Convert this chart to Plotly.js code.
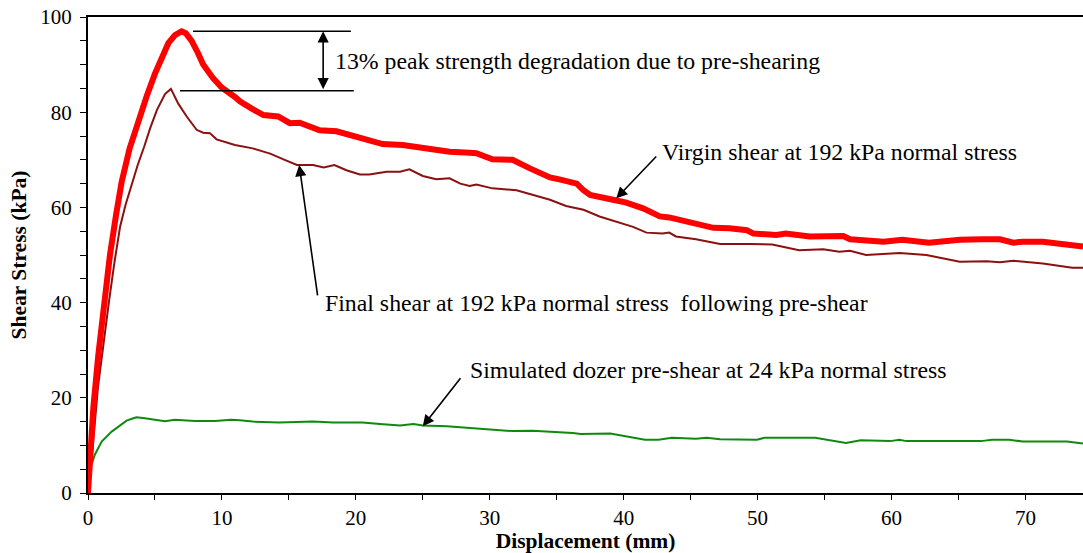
<!DOCTYPE html>
<html>
<head>
<meta charset="utf-8">
<script src="https://cdn.plot.ly/plotly-3.0.1.min.js"></script>
<style>html,body{margin:0;padding:0;background:#fff;}#chart{width:1083px;height:553px;}</style>
</head>
<body>
<div id="chart"></div>
<script>
// Virgin shear at 192 kPa normal stress
const virginX = [0,0.15,0.4,0.77,1.2,1.64,2.1,2.51,3.1,3.76,4.4,5.0,5.5,6.0,6.5,6.99,7.3,7.74,8.2,8.6,9.35,9.98,10.97,11.34,12.2,13.1,14.2,15.07,15.8,16.5,17.3,18.56,19.55,20.5,22.0,23.5,25.3,27.0,28.5,29.0,30.2,31.7,33.0,34.5,35.2,36.5,37.0,37.5,39.2,40.2,41.45,42.7,43.4,44.9,46.7,47.9,49.2,49.7,51.4,52.1,53.1,53.9,56.4,56.9,59.4,60.8,62.8,65.1,66.8,68.1,69.1,69.8,71.3,72.5,74.3];
const virginY = [0,9,18,29,40,50,58.5,65.3,72.3,78.4,83.5,88.1,91.5,94.5,96.2,97.0,96.6,95.0,92.5,90.0,87.1,85.2,83.2,82.3,80.8,79.4,79.1,77.7,77.8,77.2,76.2,76.0,75.3,74.5,73.3,73.1,72.4,71.7,71.5,71.4,70.1,70.0,68.2,66.3,65.9,65.0,63.6,62.6,61.6,61.0,59.8,58.1,57.9,56.8,55.7,55.6,55.2,54.5,54.2,54.5,54.0,53.9,54.0,53.3,52.8,53.2,52.6,53.2,53.3,53.3,52.6,52.8,52.8,52.3,51.8];

// Final shear at 192 kPa following pre-shear
const finalX = [0,0.3,0.75,1.15,1.55,1.95,2.4,2.8,3.2,3.7,4.2,4.65,5.15,5.75,6.19,6.74,7.37,8.11,8.6,9.1,9.6,10.22,10.97,12.3,13.6,14.6,15.6,16.8,17.6,18.4,19.3,20.3,21.0,22.3,23.3,24.0,25.0,26.0,27.0,27.8,28.5,29.0,30.2,32.0,33.7,34.5,35.7,37.0,38.2,39.4,40.7,41.7,42.9,43.4,43.9,45.4,47.2,49.4,51.1,53.1,54.9,56.1,56.9,58.1,60.6,62.6,65.1,67.1,68.1,69.1,71.3,73.5,74.3];
const finalY = [0,8,22.4,31.5,39.9,48,56,60.5,64.4,68.8,72.8,76.7,80.5,83.8,84.9,81.8,79.1,76.3,75.7,75.6,74.3,73.8,73.1,72.4,71.3,70.1,68.9,68.9,68.4,68.9,67.8,66.9,66.9,67.5,67.5,68.0,66.6,65.9,66.1,65.0,64.5,64.8,64.0,63.6,62.3,61.6,60.3,59.5,58.1,57.0,55.9,54.7,54.5,54.7,53.9,53.3,52.3,52.3,52.2,51.0,51.2,50.7,50.9,50.0,50.4,50.0,48.6,48.7,48.5,48.8,48.2,47.3,47.3];

// Simulated dozer pre-shear at 24 kPa normal stress
const dozerX = [0,0.15,0.5,1.02,1.77,2.88,3.38,3.63,4.25,5.75,6.49,7.99,9.48,10.7,11.34,12.3,14.3,16.8,18.3,20.5,21.8,23.3,24.3,25.0,26.8,29.25,31.7,33.2,34.7,36.2,36.8,38.0,39.0,41.6,42.6,43.6,45.4,46.2,47.2,49.96,50.5,52.8,54.3,56.6,57.7,59.9,60.6,61.1,66.7,67.5,68.8,69.8,73.1,74.3];
const dozerY = [0,4.9,8,10.8,12.9,15.2,15.7,15.9,15.7,15.1,15.4,15.1,15.1,15.4,15.3,15.0,14.8,15.0,14.8,14.8,14.5,14.2,14.5,14.2,14.0,13.5,13.0,13.1,12.9,12.6,12.4,12.4,12.5,11.2,11.2,11.6,11.4,11.6,11.3,11.2,11.6,11.6,11.6,10.5,11.1,10.9,11.2,10.9,10.9,11.2,11.2,10.8,10.8,10.4];

// Peak levels and annotation texts
const virginPeak = 97.0;
const finalPeak = 84.5;
const labelTexts = [
  "13% peak strength degradation due to pre-shearing",
  "Virgin shear at 192 kPa normal stress",
  "Final shear at 192 kPa normal stress  following pre-shear",
  "Simulated dozer pre-shear at 24 kPa normal stress"
];

const serif = "'Liberation Serif', 'Times New Roman', serif";

const traces = [
  {x: dozerX, y: dozerY, type: 'scatter', mode: 'lines', line: {color: '#0f8a0f', width: 2}, hoverinfo: 'skip'},
  {x: finalX, y: finalY, type: 'scatter', mode: 'lines', line: {color: '#8b1010', width: 2}, hoverinfo: 'skip'},
  {x: virginX, y: virginY, type: 'scatter', mode: 'lines', line: {color: '#ff0000', width: 6}, hoverinfo: 'skip'}
];

const arrowBase = {showarrow: true, text: '', arrowhead: 2, arrowsize: 1.4, arrowwidth: 1.6, arrowcolor: '#000', axref: 'x', ayref: 'y', xref: 'x', yref: 'y'};
const textBase = {showarrow: false, xref: 'x', yref: 'y', xanchor: 'left', yanchor: 'middle', font: {family: serif, size: 23.8, color: '#000'}};

const layout = {
  width: 1083, height: 553,
  margin: {l: 88, r: 0, t: 17, b: 60},
  paper_bgcolor: '#fff', plot_bgcolor: '#fff',
  showlegend: false,
  xaxis: {
    range: [0, 74.3], dtick: 10, tick0: 0,
    showgrid: false, zeroline: false,
    showline: true, linecolor: '#000', linewidth: 2, mirror: true,
    ticks: 'outside', ticklen: 5, tickwidth: 1, tickcolor: '#000',
    minor: {dtick: 5, ticks: 'outside', ticklen: 5, tickwidth: 1, tickcolor: '#000', showgrid: false},
    tickfont: {family: serif, size: 21, color: '#000'},
    ticklabelstandoff: 0,
    title: {text: 'Displacement (mm)', font: {family: serif, size: 21.5, color: '#000', weight: 'bold'}, standoff: 2}
  },
  yaxis: {
    range: [0, 100], dtick: 20, tick0: 0,
    showgrid: false, zeroline: false,
    showline: true, linecolor: '#000', linewidth: 2,
    ticks: 'outside', ticklen: 6, tickwidth: 1, tickcolor: '#000',
    minor: {dtick: 5, ticks: 'outside', ticklen: 6, tickwidth: 1, tickcolor: '#000', showgrid: false},
    tickfont: {family: serif, size: 21, color: '#000'},
    ticklabelstandoff: 4,
    title: {text: 'Shear Stress (kPa)', font: {family: serif, size: 21.5, color: '#000', weight: 'bold'}, standoff: 8}
  },
  shapes: [
    {type: 'line', xref: 'x', yref: 'y', x0: 7.84, x1: 19.63, y0: virginPeak, y1: virginPeak, line: {color: '#000', width: 1.5}},
    {type: 'line', xref: 'x', yref: 'y', x0: 6.87, x1: 19.85, y0: finalPeak, y1: finalPeak, line: {color: '#000', width: 1.5}}
  ],
  annotations: [
    Object.assign({}, arrowBase, {x: 17.56, y: virginPeak, ax: 17.56, ay: finalPeak, arrowside: 'end+start', startarrowhead: 2, startarrowsize: 1.4}),
    Object.assign({}, arrowBase, {x: 39.45, y: 61.9, ax: 42.54, ay: 71.0}),
    Object.assign({}, arrowBase, {x: 15.77, y: 68.9, ax: 17.16, ay: 41.2}),
    Object.assign({}, arrowBase, {x: 25.0, y: 14.0, ax: 27.9, ay: 24.4}),
    Object.assign({}, textBase, {x: 18.28, y: 90.7, text: labelTexts[0]}),
    Object.assign({}, textBase, {x: 42.7, y: 71.6, text: labelTexts[1]}),
    Object.assign({}, textBase, {x: 17.54, y: 39.95, text: labelTexts[2]}),
    Object.assign({}, textBase, {x: 28.36, y: 25.9, text: labelTexts[3]})
  ]
};

Plotly.newPlot('chart', traces, layout, {displayModeBar: false, staticPlot: true});
</script>
</body>
</html>
